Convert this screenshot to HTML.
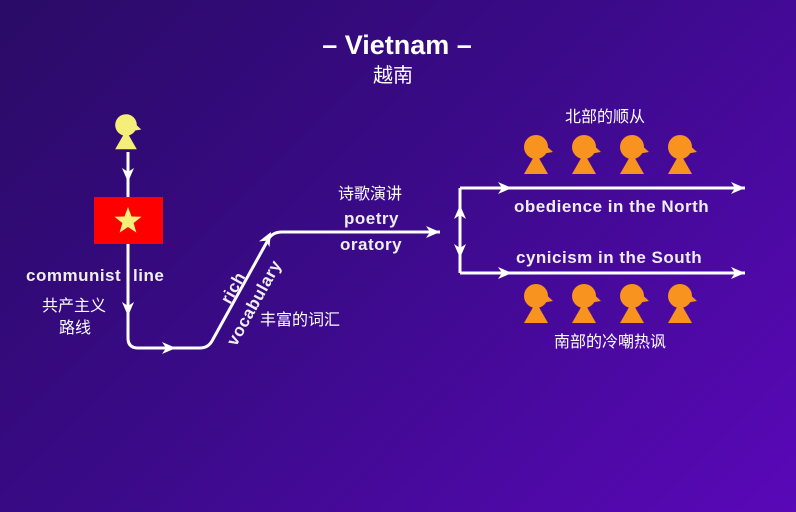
<!DOCTYPE html>
<html><head><meta charset="utf-8"><style>
html,body{margin:0;padding:0;}
body{width:796px;height:512px;overflow:hidden;background:linear-gradient(135deg,#2a0b66 0%,#3a0a88 45%,#5a08b8 100%);}
svg{display:block}
text{font-family:"Liberation Sans","Noto Sans CJK SC",sans-serif;fill:#fff}
.b{font-weight:bold;font-size:17px;fill:#eee;letter-spacing:0.5px}
.c{font-size:16px}
</style></head><body>
<svg width="796" height="512" viewBox="0 0 796 512">
<defs>
<g id="p">
<polygon points="0,6 -12,27 12,27"/>
<circle cx="0" cy="0" r="12"/>
<polygon points="5,-6 17,5 5,7"/>
</g>
<g id="ah"><polygon points="0,0 -14,-6 -10,0 -14,6" fill="#fff"/></g>
</defs>
<text x="397" y="54" text-anchor="middle" style="font-weight:bold;font-size:27px">– Vietnam –</text>
<text x="393" y="82" text-anchor="middle" style="font-size:20px">越南</text>

<g fill="#f5ef7a" transform="translate(126,125) scale(0.9)"><use href="#p"/></g>

<path d="M128,152 V338 Q128,348 138,348 H200 Q208,348 212,341 L268,240 Q272,232 282,232 H440" fill="none" stroke="#fff" stroke-width="3"/>
<use href="#ah" transform="translate(128,182) rotate(90)"/>
<use href="#ah" transform="translate(128,316) rotate(90)"/>
<use href="#ah" transform="translate(176,348)"/>
<use href="#ah" transform="translate(271,232) rotate(-61)"/>
<use href="#ah" transform="translate(440,232)"/>

<rect x="94" y="197" width="69" height="47" fill="#f00"/>
<polygon fill="#f5ef7a" points="128,207 131.5,216.5 141.5,216.8 133.6,223 136.4,232.6 128,227 119.6,232.6 122.4,223 114.5,216.8 124.5,216.5"/>

<path d="M460,188 V273 M460,188 H745 M460,273 H745" fill="none" stroke="#fff" stroke-width="3"/>
<use href="#ah" transform="translate(460,205) rotate(-90)"/>
<use href="#ah" transform="translate(460,258) rotate(90)"/>
<use href="#ah" transform="translate(512,188)"/>
<use href="#ah" transform="translate(512,273)"/>
<use href="#ah" transform="translate(745,188)"/>
<use href="#ah" transform="translate(745,273)"/>

<g fill="#f7931e">
<use href="#p" transform="translate(536,147)"/>
<use href="#p" transform="translate(584,147)"/>
<use href="#p" transform="translate(632,147)"/>
<use href="#p" transform="translate(680,147)"/>
<use href="#p" transform="translate(536,296)"/>
<use href="#p" transform="translate(584,296)"/>
<use href="#p" transform="translate(632,296)"/>
<use href="#p" transform="translate(680,296)"/>
</g>

<text class="b" x="26" y="281">communist</text>
<text class="b" x="133" y="281">line</text>
<text class="c" x="42" y="311">共产主义</text>
<text class="c" x="59" y="333">路线</text>
<text class="b" transform="translate(230,305) rotate(-61)">rich</text>
<text class="b" transform="translate(236,347) rotate(-61)">vocabulary</text>
<text class="c" x="260" y="325">丰富的词汇</text>
<text class="c" x="338" y="199">诗歌演讲</text>
<text class="b" x="344" y="224">poetry</text>
<text class="b" x="340" y="250">oratory</text>
<text class="c" x="565" y="122">北部的顺从</text>
<text class="b" x="514" y="212">obedience in the North</text>
<text class="b" x="516" y="263">cynicism in the South</text>
<text class="c" x="554" y="347">南部的冷嘲热讽</text>
</svg>
</body></html>
